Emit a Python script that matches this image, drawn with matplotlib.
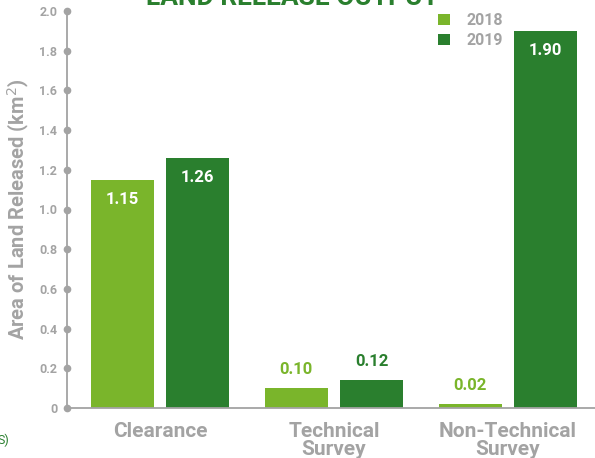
import matplotlib.pyplot as plt
import numpy as np

categories = ["Clearance", "Technical\nSurvey", "Non-Technical\nSurvey"]
v2018 = [1.15, 0.10, 0.02]
v2019 = [1.26, 0.14, 1.90]
labels2018 = ["1.15", "0.10", "0.02"]
labels2019 = ["1.26", "0.12", "1.90"]
yticks = [0, 0.2, 0.4, 0.6, 0.8, 1.0, 1.2, 1.4, 1.6, 1.8, 2.0]
yticklabels = ["0", "0.2", "0.4", "0.6", "0.8", "1.0", "1.2", "1.4", "1.6", "1.8", "2.0"]

light = "#7ab52b"
dark = "#2a7f2e"
grey = "#a3a3a3"

plt.rcParams['font.family'] = ['Roboto', 'DejaVu Sans']

fig = plt.figure(figsize=(5.95, 4.58), dpi=100)
ax = fig.add_axes([67/595, 1-408/458, 1-67/595, 397/458])

x = np.arange(len(categories))
w = 0.362
off = 0.216
b1 = ax.bar(x - off, v2018, w, color=light, label="2018")
b2 = ax.bar(x + off, v2019, w, color=dark, label="2019")

# value labels: inside the bar when it is tall, above it otherwise
for bars, vals, labs, col in [(b1, v2018, labels2018, light), (b2, v2019, labels2019, dark)]:
    for rect, v, lab in zip(bars, vals, labs):
        cx = rect.get_x() + rect.get_width()/2
        if v > 0.5:
            ax.text(cx, v - 0.098, lab, ha='center', va='center', color='white',
                    fontsize=12, fontweight='bold')
        else:
            ax.text(cx, v + 0.093, lab, ha='center', va='center', color=col,
                    fontsize=12, fontweight='bold')

ax.set_xlim(-0.534, 2.5)
ax.set_ylim(0, 2.0)
ax.set_yticks(yticks)
ax.set_yticklabels(yticklabels, fontsize=9, fontweight='bold', color=grey)
ax.set_xticks(x)
ax.set_xticklabels(categories, fontsize=15, fontweight='bold', color=grey,
                   linespacing=0.95)
ax.tick_params(axis='x', length=0, pad=10)
ax.tick_params(axis='y', length=0, pad=7)
for t in yticks:
    ax.plot(0, t, 'o', color=grey, markersize=4.5, transform=ax.get_yaxis_transform(),
            clip_on=False, zorder=5)

for s in ['top', 'right']:
    ax.spines[s].set_visible(False)
for s in ['left', 'bottom']:
    ax.spines[s].set_color(grey)
    ax.spines[s].set_linewidth(1.3)

ax.set_ylabel("Area of Land Released (km$^2$)", fontsize=14.5, fontweight='bold',
              color=grey, labelpad=6)

leg = ax.legend(loc='upper left', bbox_to_anchor=(427/595, 1 - 2/458),
                bbox_transform=fig.transFigure, frameon=False, fontsize=11.5,
                handlelength=0.75, handleheight=0.75, handletextpad=1.0,
                labelspacing=0.3, borderaxespad=0.3)
for t in leg.get_texts():
    t.set_color(grey)
    t.set_fontweight('bold')

fig.text(292/595, 1 - 5/458, "LAND RELEASE OUTPUT", ha='center', va='baseline',
         color=dark, fontsize=19, fontweight='bold')
fig.text(9/595, 1 - 440/458, "S)", ha='right', va='center', color=dark, fontsize=9)

fig.savefig("out.png", dpi=100)
